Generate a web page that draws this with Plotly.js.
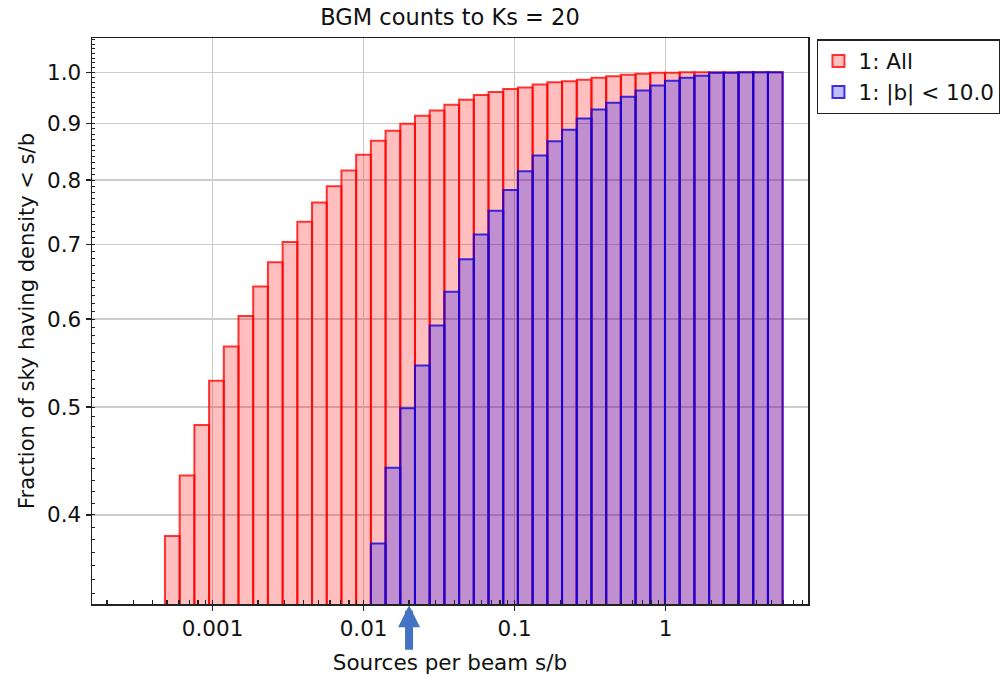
<!DOCTYPE html>
<html>
<head>
<meta charset="utf-8">
<script src="https://cdn.plot.ly/plotly-3.0.1.min.js"></script>
<style>
  html, body { margin: 0; padding: 0; background: #ffffff; }
  #chart { width: 1000px; height: 677px; }
</style>
</head>
<body>
<div id="chart"></div>
<script>
// Bin edges (sources per beam, s/b) of the cumulative histogram: 42 bins
const binEdges = [
  0.0004842, 0.0006059, 0.0007581, 0.0009486, 0.001187, 0.001485, 0.001858, 0.002325,
  0.002910, 0.003641, 0.004556, 0.005702, 0.007134, 0.008927, 0.011170, 0.013977,
  0.017490, 0.021885, 0.027384, 0.034263, 0.042877, 0.053654, 0.067130, 0.08400,
  0.10510, 0.13152, 0.16458, 0.20593, 0.25771, 0.32248, 0.40355, 0.50498,
  0.63168, 0.79068, 0.98901, 1.2376, 1.5485, 1.9379, 2.4240, 3.0339,
  3.7965, 4.7502, 5.9429
];

// Fraction of sky having density < s/b : all sky (one value per bin)
const fracAll = [
  0.383, 0.434, 0.482, 0.528, 0.567, 0.604, 0.642, 0.675,
  0.704, 0.734, 0.764, 0.790, 0.816, 0.843, 0.868, 0.886,
  0.899, 0.914, 0.924, 0.935, 0.945, 0.954, 0.960, 0.966,
  0.969, 0.975, 0.980, 0.982, 0.985, 0.989, 0.992, 0.995,
  0.997, 0.999, 0.999, 1.0, 1.0, 1.0, 1.0, 1.0,
  1.0, 1.0
];

// Low galactic latitude |b| < 10 (first non-empty bin index below)
const lowLatStart = 14;
const fracLowLat = [
  0.377, 0.441, 0.499, 0.545, 0.592, 0.635, 0.679, 0.715,
  0.751, 0.784, 0.815, 0.842, 0.867, 0.888, 0.909, 0.926,
  0.939, 0.951, 0.963, 0.973, 0.983, 0.989, 0.993, 0.999,
  0.999, 1.0, 1.0, 1.0
];

const seriesNames = ['1: All', '1: |b| &lt; 10.0'];
const xTickVals = [0.001, 0.01, 0.1, 1];
const xTickText = ['0.001', '0.01', '0.1', '1'];
const yTickVals = [0.4, 0.5, 0.6, 0.7, 0.8, 0.9, 1.0];
const yTickText = ['0.4', '0.5', '0.6', '0.7', '0.8', '0.9', '1.0'];
const markerValue = 0.02;

const FONT = 'DejaVu Sans, Lucida Grande, sans-serif';

// bar position / width from bin edges (plotly bar widths are in data units)
function binGeometry(startIdx, count) {
  const mid = [], wid = [];
  for (let i = startIdx; i < startIdx + count; i++) {
    const lo = binEdges[i], hi = binEdges[i + 1];
    mid.push((lo + hi) / 2);
    wid.push(hi - lo);
  }
  return { mid, wid };
}
const gAll = binGeometry(0, fracAll.length);
const gLow = binGeometry(lowLatStart, fracLowLat.length);

const traces = [
  {
    type: 'bar',
    name: seriesNames[0],
    x: gAll.mid,
    width: gAll.wid,
    y: fracAll,
    marker: {
      color: 'rgba(255,0,0,0.25)',
      line: { color: 'rgba(255,0,0,0.78)', width: 2 }
    },
    hoverinfo: 'x+y'
  },
  {
    type: 'bar',
    name: seriesNames[1],
    x: gLow.mid,
    width: gLow.wid,
    y: fracLowLat,
    marker: {
      color: 'rgba(0,0,255,0.25)',
      line: { color: 'rgba(20,0,220,0.8)', width: 2 }
    },
    hoverinfo: 'x+y'
  }
];

const layout = {
  width: 1000,
  height: 677,
  paper_bgcolor: '#ffffff',
  plot_bgcolor: '#ffffff',
  font: { family: FONT, size: 21, color: '#111' },
  margin: { l: 92, r: 192, t: 38, b: 73, autoexpand: false },
  barmode: 'overlay',
  bargap: 0,
  showlegend: true,
  title: {
    text: 'BGM counts to Ks = 20',
    font: { family: FONT, size: 22.5, color: '#111' },
    xref: 'paper', x: 0.5, xanchor: 'center',
    yref: 'container', y: 0.975, yanchor: 'middle'
  },
  xaxis: {
    type: 'log',
    range: [-3.798, 0.942],
    tickvals: xTickVals,
    ticktext: xTickText,
    ticks: 'outside',
    ticklen: 5,
    tickwidth: 1.5,
    tickcolor: '#222',
    tickfont: { family: FONT, size: 21.5, color: '#111' },
    showline: true,
    linecolor: '#222',
    linewidth: 1.5,
    mirror: true,
    showgrid: true,
    gridcolor: '#cccccc',
    gridwidth: 1.5,
    zeroline: false,
    minor: { dtick: 'D1', ticks: 'inside', ticklen: 4, tickwidth: 1.2, tickcolor: '#222', showgrid: false },
    title: { text: 'Sources per beam s/b', font: { family: FONT, size: 21.5, color: '#111' }, standoff: 14 }
  },
  yaxis: {
    type: 'log',
    range: [-0.478, 0.0309],
    tickvals: yTickVals,
    ticktext: yTickText,
    ticks: 'outside',
    ticklen: 5,
    tickwidth: 1.5,
    tickcolor: '#222',
    tickfont: { family: FONT, size: 21.5, color: '#111' },
    showline: true,
    linecolor: '#222',
    linewidth: 1.5,
    mirror: true,
    showgrid: true,
    gridcolor: '#cccccc',
    gridwidth: 1.5,
    zeroline: false,
    minor: { dtick: 'L0.01', ticks: 'inside', ticklen: 3, tickwidth: 1, tickcolor: '#222', showgrid: false },
    title: { text: 'Fraction of sky having density &lt; s/b', font: { family: FONT, size: 21, color: '#111' }, standoff: 6 }
  },
  legend: {
    x: 1.0125, xanchor: 'left',
    y: 0.998, yanchor: 'top',
    bgcolor: '#ffffff',
    bordercolor: '#222',
    borderwidth: 1.5,
    font: { family: FONT, size: 21.5, color: '#111' },
    traceorder: 'normal'
  },
  annotations: [
    {
      x: Math.log10(markerValue), xref: 'x',
      y: -0.002, yref: 'paper',
      ax: 0, ay: 46, axref: 'pixel', ayref: 'pixel',
      text: '',
      showarrow: true,
      arrowhead: 2,
      arrowsize: 0.55,
      arrowwidth: 8,
      arrowcolor: '#4472c4'
    }
  ]
};

Plotly.newPlot('chart', traces, layout, { displayModeBar: false, staticPlot: true });
</script>
</body>
</html>
